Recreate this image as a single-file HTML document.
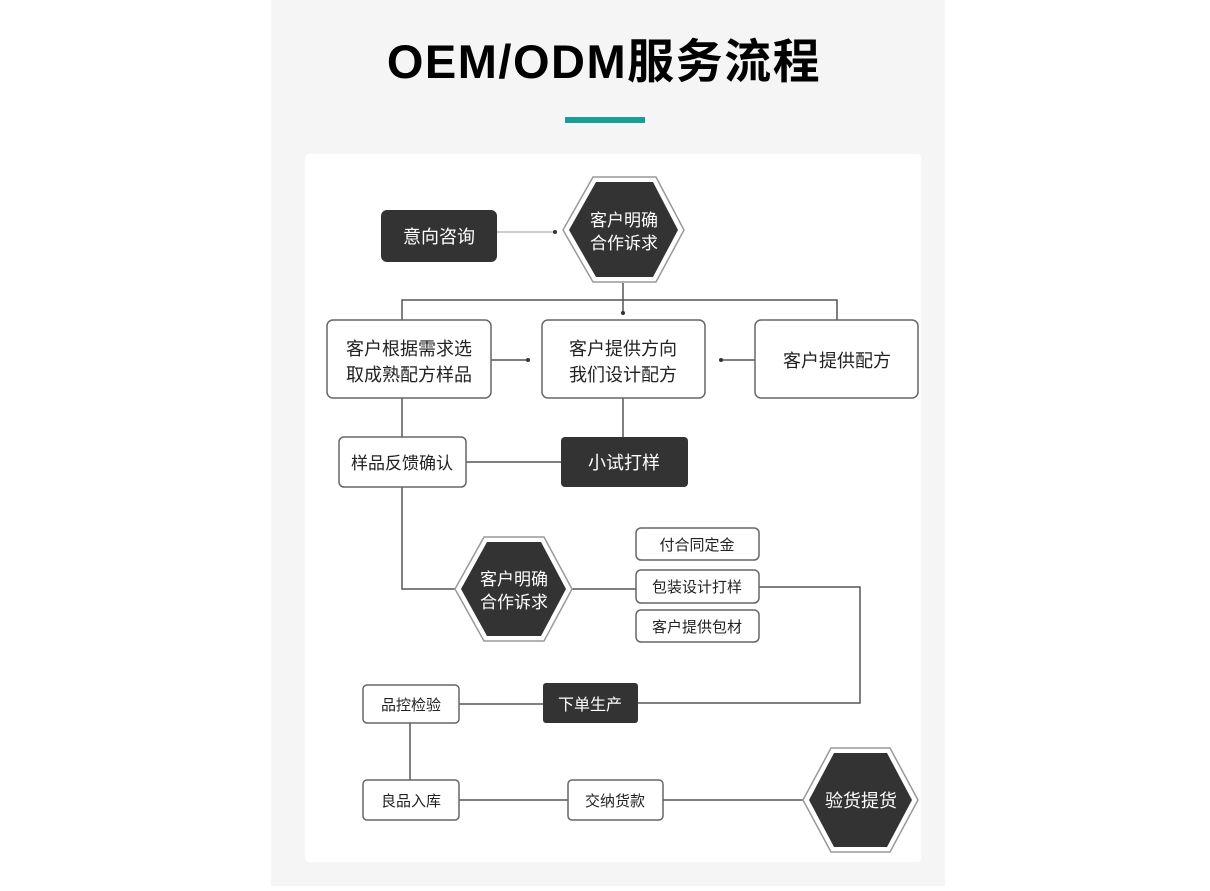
<!DOCTYPE html>
<html><head><meta charset="utf-8"><style>
html,body{margin:0;padding:0;background:#fff;}
body{width:1210px;height:886px;overflow:hidden;}
svg text{font-family:"Liberation Sans","Noto Sans CJK SC",sans-serif;}
</style></head><body>
<svg width="1210" height="886" viewBox="0 0 1210 886" xmlns="http://www.w3.org/2000/svg">
<rect x="0" y="0" width="1210" height="886" fill="#fff"/>
<rect x="271" y="0" width="674" height="886" fill="#f5f5f5"/>
<rect x="305" y="154" width="616" height="708" fill="#fff" rx="4"/>
<text x="604" y="78" text-anchor="middle" font-size="47" font-weight="bold" letter-spacing="1.5" fill="#000">OEM/ODM服务流程</text>
<rect x="565" y="117" width="80" height="6" fill="#1a9e9a"/>

<g stroke="#555" stroke-width="1.5" fill="none">
<line x1="497" y1="232" x2="555" y2="232" stroke="#bbb"/>
<polyline points="623,283 623,300"/>
<polyline points="402,320 402,300 837,300 837,320"/>
<line x1="623" y1="300" x2="623" y2="313"/>
<line x1="491" y1="360" x2="528" y2="360"/>
<line x1="721" y1="360" x2="755" y2="360"/>
<line x1="402" y1="398" x2="402" y2="437"/>
<line x1="623" y1="398" x2="623" y2="437"/>
<line x1="466" y1="462" x2="561" y2="462"/>
<polyline points="402,487 402,589 457,589"/>
<line x1="572" y1="589" x2="636" y2="589"/>
<polyline points="759,587 860,587 860,703 638,703"/>
<line x1="459" y1="704" x2="543" y2="704"/>
<line x1="410" y1="723" x2="410" y2="780"/>
<line x1="459" y1="800" x2="568" y2="800"/>
<line x1="663" y1="800" x2="805" y2="800"/>
</g>
<g fill="#333">
<circle cx="555" cy="232" r="2"/><circle cx="623" cy="313" r="2"/>
<circle cx="528" cy="360" r="2"/><circle cx="721" cy="360" r="2"/>
</g>

<g>
<polygon points="563,230 593,177 656,177 684,230 656,282 593,282" fill="#fff" stroke="#999" stroke-width="1.5"/>
<polygon points="569,230 596,182 653,182 678,230 653,277 596,277" fill="#333"/>
<polygon points="455,589 484,537 544,537 572,589 544,641 484,641" fill="#fff" stroke="#999" stroke-width="1.5"/>
<polygon points="461,589 487,542 541,542 566,589 541,636 487,636" fill="#333"/>
<polygon points="803,800 831,748 890,748 918,800 890,852 831,852" fill="#fff" stroke="#999" stroke-width="1.5"/>
<polygon points="809,800 834,753 887,753 912,800 887,847 834,847" fill="#333"/>
</g>

<g stroke="#666" stroke-width="1.5" fill="#fff">
<rect x="327" y="320" width="164" height="78" rx="6"/>
<rect x="542" y="320" width="163" height="78" rx="6"/>
<rect x="755" y="320" width="163" height="78" rx="6"/>
<rect x="339" y="437" width="127" height="50" rx="5"/>
<rect x="636" y="528" width="123" height="32" rx="5"/>
<rect x="636" y="570" width="123" height="33" rx="5"/>
<rect x="636" y="610" width="123" height="32" rx="5"/>
<rect x="363" y="685" width="96" height="38" rx="4"/>
<rect x="363" y="780" width="96" height="40" rx="4"/>
<rect x="568" y="780" width="95" height="40" rx="4"/>
</g>
<g fill="#333">
<rect x="381" y="210" width="116" height="52" rx="6"/>
<rect x="561" y="437" width="127" height="50" rx="4"/>
<rect x="543" y="683" width="95" height="40" rx="3"/>
</g>

<g font-size="18" fill="#fff" text-anchor="middle">
<text x="439" y="243">意向咨询</text>
<text x="624" y="226" font-size="17">客户明确</text>
<text x="624" y="249" font-size="17">合作诉求</text>
<text x="624" y="469">小试打样</text>
<text x="514" y="585" font-size="17">客户明确</text>
<text x="514" y="608" font-size="17">合作诉求</text>
<text x="590" y="710" font-size="16">下单生产</text>
<text x="861" y="807">验货提货</text>
</g>
<g font-size="18" fill="#222" text-anchor="middle">
<text x="409" y="355">客户根据需求选</text>
<text x="409" y="381">取成熟配方样品</text>
<text x="623" y="355">客户提供方向</text>
<text x="623" y="381">我们设计配方</text>
<text x="837" y="367">客户提供配方</text>
<text x="402" y="469" font-size="17">样品反馈确认</text>
<text x="697" y="550" font-size="15">付合同定金</text>
<text x="697" y="592" font-size="15">包装设计打样</text>
<text x="697" y="632" font-size="15">客户提供包材</text>
<text x="411" y="710" font-size="15">品控检验</text>
<text x="411" y="806" font-size="15">良品入库</text>
<text x="615" y="806" font-size="15">交纳货款</text>
</g>
</svg>
</body></html>
